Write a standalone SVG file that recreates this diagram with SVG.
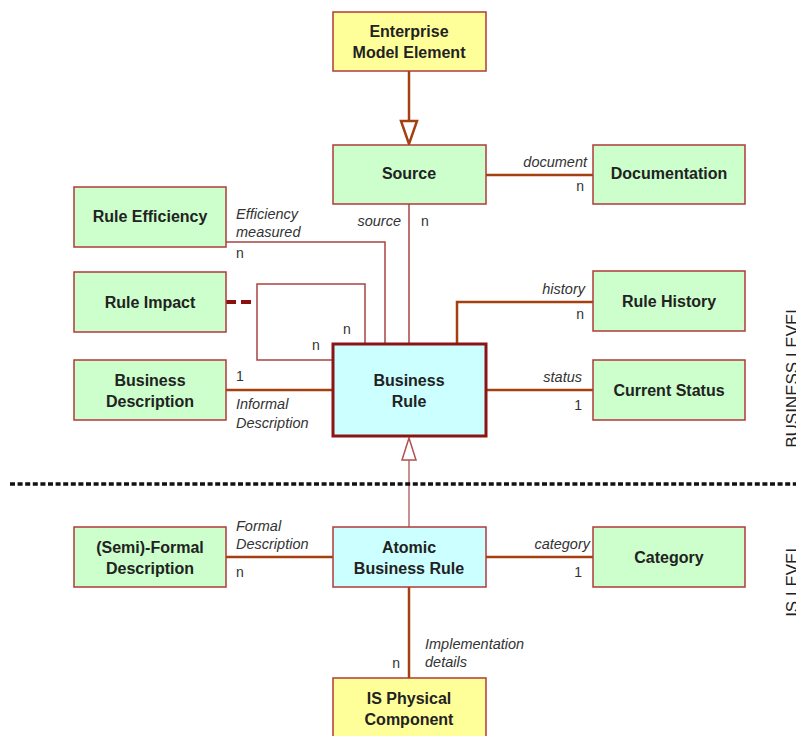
<svg xmlns="http://www.w3.org/2000/svg" width="796" height="736" viewBox="0 0 796 736">
<style>
.box{stroke:#b03a3a;stroke-width:1.5}
.g{fill:#ccffcc}.y{fill:#ffff99}.c{fill:#ccffff}
.t{font-family:"Liberation Sans",Arial,sans-serif;font-weight:bold;font-size:16px;fill:#222;text-anchor:middle}
.l{font-family:"Liberation Sans",Arial,sans-serif;font-style:italic;font-size:14.5px;fill:#333}
.m{font-family:"Liberation Sans",Arial,sans-serif;font-size:14px;fill:#333}
.r{text-anchor:end}
.thick{fill:none;stroke:#a3400f;stroke-width:2.5}
.thin{fill:none;stroke:#a84444;stroke-width:1.5}
.lvl{font-family:"Liberation Sans",Arial,sans-serif;font-size:17px;fill:#222;text-anchor:middle}
</style>
<rect width="796" height="736" fill="#fff"/>
<g id="connectors">
<line class="thick" x1="409" y1="71" x2="409" y2="121"/>
<polygon points="401,121 417,121 409,144" fill="#fff" stroke="#a3400f" stroke-width="2.5"/>
<line class="thick" x1="486" y1="175" x2="593" y2="175"/>
<line class="thin" x1="409" y1="204" x2="409" y2="344"/>
<polyline class="thin" points="226,242 385,242 385,344"/>
<polyline class="thin" points="365,344 365,284 257,284 257,360 333,360"/>
<line x1="226" y1="302" x2="252" y2="302" stroke="#8b1010" stroke-width="4" stroke-dasharray="10 5"/>
<line class="thick" x1="226" y1="390" x2="333" y2="390"/>
<polyline class="thick" points="457,344 457,302 593,302"/>
<line class="thick" x1="486" y1="390" x2="593" y2="390"/>
<line x1="409" y1="527" x2="409" y2="460" stroke="#b86a6a" stroke-width="1.5"/>
<polygon points="402,460 416,460 409,438" fill="#fff" stroke="#b05050" stroke-width="1.5"/>
<line class="thick" x1="226" y1="557" x2="333" y2="557"/>
<line class="thick" x1="486" y1="557" x2="593" y2="557"/>
<line class="thick" x1="409" y1="587" x2="409" y2="678"/>
<line x1="10" y1="484" x2="796" y2="484" stroke="#111" stroke-width="3.5" stroke-dasharray="5 2.6"/>
<text class="l r" x="587" y="167">document</text>
<text class="m r" x="584" y="191">n</text>
<text class="l r" x="401" y="226">source</text>
<text class="m" x="421" y="226">n</text>
<text class="l" x="236" y="219">Efficiency</text>
<text class="l" x="236" y="237">measured</text>
<text class="m" x="236" y="258">n</text>
<text class="m" x="343" y="334">n</text>
<text class="m" x="312" y="350">n</text>
<text class="m" x="236" y="381">1</text>
<text class="l" x="236" y="409">Informal</text>
<text class="l" x="236" y="428">Description</text>
<text class="l r" x="585" y="294">history</text>
<text class="m r" x="584" y="319">n</text>
<text class="l r" x="582" y="382">status</text>
<text class="m r" x="582" y="410">1</text>
<text class="l" x="236" y="531">Formal</text>
<text class="l" x="236" y="549">Description</text>
<text class="m" x="236" y="577">n</text>
<text class="l r" x="590" y="549">category</text>
<text class="m r" x="582" y="577">1</text>
<text class="m r" x="400" y="668">n</text>
<text class="l" x="425" y="649">Implementation</text>
<text class="l" x="425" y="667">details</text>
<text class="lvl" transform="translate(798,376) rotate(-90)">BUSINESS LEVEL</text>
<text class="lvl" transform="translate(798,580) rotate(-90)">IS LEVEL</text>
</g>
<g id="enterprise"><rect class="box y" x="333" y="12" width="153" height="59"/><text class="t" x="409" y="37">Enterprise</text><text class="t" x="409" y="58">Model Element</text></g>
<g id="source"><rect class="box g" x="333" y="145" width="153" height="59"/><text class="t" x="409" y="179">Source</text></g>
<g id="documentation"><rect class="box g" x="593" y="145" width="152" height="59"/><text class="t" x="669" y="179">Documentation</text></g>
<g id="rule-efficiency"><rect class="box g" x="74" y="187" width="152" height="60"/><text class="t" x="150" y="222">Rule Efficiency</text></g>
<g id="rule-impact"><rect class="box g" x="74" y="272" width="152" height="60"/><text class="t" x="150" y="308">Rule Impact</text></g>
<g id="business-description"><rect class="box g" x="74" y="360" width="152" height="60"/><text class="t" x="150" y="386">Business</text><text class="t" x="150" y="407">Description</text></g>
<g id="business-rule"><rect x="333" y="344" width="153" height="92" fill="#ccffff" stroke="#8b1515" stroke-width="3"/><text class="t" x="409" y="386">Business</text><text class="t" x="409" y="407">Rule</text></g>
<g id="rule-history"><rect class="box g" x="593" y="271" width="152" height="60"/><text class="t" x="669" y="307">Rule History</text></g>
<g id="current-status"><rect class="box g" x="593" y="360" width="152" height="60"/><text class="t" x="669" y="396">Current Status</text></g>
<g id="semi-formal"><rect class="box g" x="74" y="527" width="152" height="60"/><text class="t" x="150" y="553">(Semi)-Formal</text><text class="t" x="150" y="574">Description</text></g>
<g id="atomic"><rect class="box c" x="333" y="527" width="153" height="60"/><text class="t" x="409" y="553">Atomic</text><text class="t" x="409" y="574">Business Rule</text></g>
<g id="category"><rect class="box g" x="593" y="527" width="152" height="60"/><text class="t" x="669" y="563">Category</text></g>
<g id="is-physical"><rect class="box y" x="333" y="678" width="153" height="62"/><text class="t" x="409" y="704">IS Physical</text><text class="t" x="409" y="725">Component</text></g>
</svg>
